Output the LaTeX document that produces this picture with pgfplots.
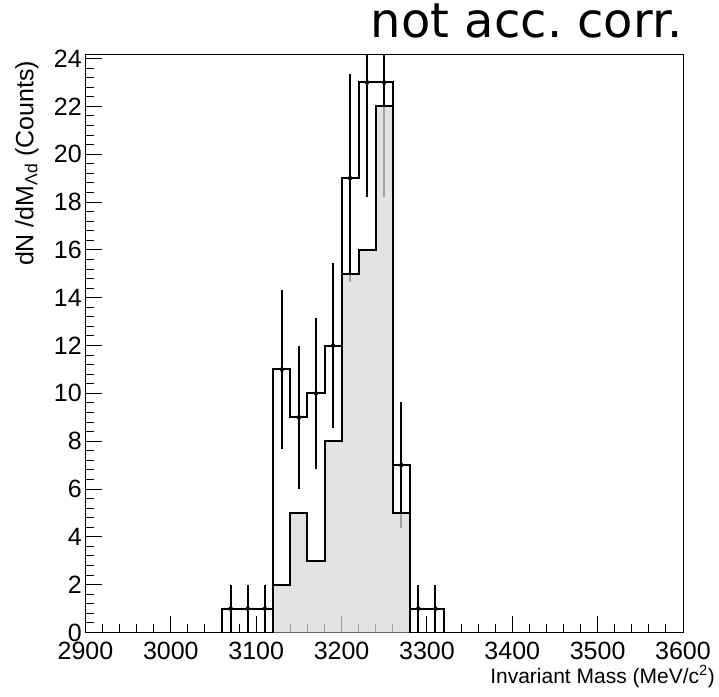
\documentclass[border=0pt]{standalone}
\usepackage{pgfplots}
\pgfplotsset{compat=1.18}
\usepackage{fontspec}
\setmainfont{Liberation Sans}
\newfontfamily\dejavu{DejaVu Sans}
\frenchspacing
\begin{document}
\begin{tikzpicture}
\useasboundingbox (-85.5pt,-63.5pt) rectangle (633.5pt,632.5pt);
\begin{axis}[
  at={(0pt,0pt)}, anchor=south west,
  scale only axis, width=597.5pt, height=577.5pt,
  xmin=2900, xmax=3600, ymin=0, ymax=24.15,
  axis line style={line width=1pt},
  tick align=inside, tick pos=left,
  xtick={2900,3000,...,3600}, ytick={0,2,...,24},
  minor x tick num=4, minor y tick num=4,
  major tick length=17pt, minor tick length=8.5pt,
  every tick/.style={black, line width=1pt},
  scaled ticks=false,
  /pgf/number format/1000 sep={},
  /pgf/number format/assume math mode=true,
  ticklabel style={font=\fontsize{25}{29}\selectfont, inner sep=0pt},
  xticklabel style={yshift=-9pt},
  yticklabel style={xshift=-3.5pt},
  xlabel={Invariant Mass (MeV/c\textsuperscript{2})},
  xlabel style={at={(axis description cs:1.0536,-0.088)}, anchor=base east, inner sep=0pt, font=\fontsize{21}{25}\selectfont},
  ylabel={dN /dM\textsubscript{Λd} (Counts)},
  ylabel style={at={(axis description cs:-0.0874,0.9905)}, anchor=base east, inner sep=0pt, font=\fontsize{25}{30}\selectfont},
  title={not acc.\ corr.},
  title style={at={(axis description cs:1,1.0203)}, anchor=base east, inner sep=0pt, font=\dejavu\fontsize{48}{56}\selectfont},
]
% main histogram (outline)
\addplot[const plot, line width=2pt, black] coordinates {
  (3060,0) (3060,1) (3080,1) (3100,1) (3120,11) (3140,9) (3160,10) (3180,12)
  (3200,19) (3220,23) (3240,23) (3260,7) (3280,1) (3300,1) (3320,1) (3320,0)};
% error bars (sqrt N)
\addplot[only marks, mark=none, error bars/.cd, y dir=both, y explicit, error mark=none,
  error bar style={draw=black, solid, line width=2pt}] coordinates {
  (3070,1) +- (0,1)
  (3090,1) +- (0,1)
  (3110,1) +- (0,1)
  (3130,11) +- (0,3.317)
  (3150,9) +- (0,3)
  (3170,10) +- (0,3.162)
  (3190,12) +- (0,3.464)
  (3210,19) +- (0,4.359)
  (3230,23) +- (0,4.796)
  (3250,23) +- (0,4.796)
  (3270,7) +- (0,2.646)
  (3290,1) +- (0,1)
  (3310,1) +- (0,1)};
% filled histogram
\addplot[const plot, line width=2pt, black, fill=black!15, fill opacity=0.75, draw opacity=1] coordinates {
  (3120,0) (3120,2) (3140,5) (3160,3) (3180,8) (3200,15) (3220,16) (3240,22)
  (3260,5) (3280,5) (3280,0)};
\end{axis}
\end{tikzpicture}
\end{document}
